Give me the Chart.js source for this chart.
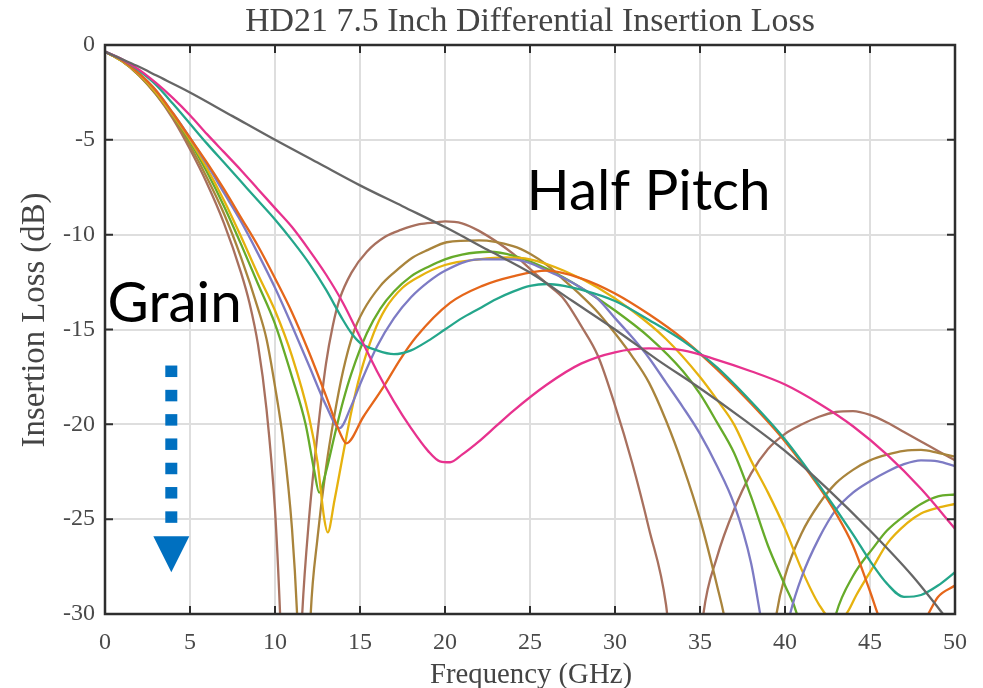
<!DOCTYPE html>
<html>
<head>
<meta charset="utf-8">
<title>HD21 7.5 Inch Differential Insertion Loss</title>
<script src="https://cdn.jsdelivr.net/npm/chart.js@4.4.1/dist/chart.umd.min.js"></script>
<style>
  html, body { margin: 0; padding: 0; background: #fff; }
  #wrap { width: 983px; height: 688px; }
</style>
</head>
<body>
<div id="wrap"><canvas id="il" width="983" height="688"></canvas></div>
<script>
// axis ticks
const freqTicks = [0, 5, 10, 15, 20, 25, 30, 35, 40, 45, 50];
const lossTicks = [0, -5, -10, -15, -20, -25, -30];

// insertion loss traces, frequency in GHz / loss in dB
const freqGray = [0, 1, 2, 3, 5, 7.5, 10, 12.5, 15, 17.5, 20, 22.5, 25, 27.5, 30, 32.5, 35, 37.5, 40, 42.5, 45, 47.5, 50];
const lossGray = [-0.35, -0.75, -1.15, -1.6, -2.5, -3.75, -5.0, -6.2, -7.4, -8.5, -9.6, -10.8, -12.0, -13.5, -15.0, -16.6, -18.1, -19.7, -21.4, -23.4, -25.6, -28.0, -30.8];

const freqPink = [0, 1, 2, 3, 4, 5, 6, 7, 8, 9, 10, 11, 12, 13, 14, 15, 16, 17, 18, 19, 19.7, 20.3, 21, 22, 23, 24, 26, 28, 30, 32, 34, 36, 38, 40, 42, 44, 46, 48, 50];
const lossPink = [-0.35, -0.75, -1.3, -2.0, -2.8, -3.7, -4.7, -5.65, -6.6, -7.6, -8.6, -9.6, -10.8, -12.1, -13.6, -15.4, -17.2, -18.8, -20.2, -21.4, -21.95, -22.0, -21.6, -20.9, -20.1, -19.3, -17.9, -16.8, -16.2, -16.0, -16.1, -16.6, -17.2, -17.9, -18.9, -20.1, -21.6, -23.4, -25.5];

const freqTeal = [0, 1, 2, 3, 4, 5, 6, 7, 8, 9, 10, 11, 12, 13, 14, 14.5, 15, 16, 17, 18, 19, 20, 21, 22, 23, 24, 25, 26, 27, 28, 30, 32, 34, 36, 38, 40, 42, 44, 45, 46, 47, 48, 49, 50];
const lossTeal = [-0.35, -0.75, -1.35, -2.1, -3.1, -4.15, -5.2, -6.2, -7.2, -8.2, -9.2, -10.3, -11.5, -12.9, -14.5, -15.2, -15.7, -16.1, -16.3, -16.1, -15.6, -15.0, -14.4, -13.9, -13.4, -13.0, -12.7, -12.6, -12.7, -12.9, -13.5, -14.5, -15.6, -17.0, -18.8, -20.8, -23.2, -25.8, -27.2, -28.4, -29.1, -29.0, -28.5, -27.8];

const freqOrange = [0, 1, 2, 3, 4, 5, 6, 7, 8, 9, 10, 11, 12, 13, 13.8, 14.2, 15.2, 16.4, 17.35, 18.3, 20.3, 22.2, 24, 26, 28, 30, 32, 34, 36, 38, 40, 42, 43, 44, 45, 45.6, 46.5, 47.5, 48.3, 49, 50];
const lossOrange = [-0.35, -0.8, -1.5, -2.4, -3.6, -4.9, -6.2, -7.6, -9.1, -10.6, -12.3, -14.1, -16.2, -18.5, -20.4, -21.0, -19.6, -18.0, -16.6, -15.4, -13.6, -12.7, -12.2, -11.9, -12.3, -13.1, -14.2, -15.5, -17.1, -18.9, -20.9, -23.3, -24.7, -26.4, -28.8, -30.3, -31.2, -31.2, -30.2, -29.1, -28.5];

const freqPurple = [0, 1, 2, 3, 4, 5, 6, 7, 8, 9, 10, 11, 12, 13, 13.8, 14.5, 15, 16, 17, 18, 19, 20, 22, 24, 25, 26, 27, 28, 29, 30, 31, 32, 33, 34, 35, 36, 37, 38, 38.6, 39.4, 40.3, 41, 42, 43, 44, 45, 46, 47, 48, 49, 50];
const lossPurple = [-0.35, -0.8, -1.5, -2.4, -3.6, -4.9, -6.3, -7.8, -9.3, -11.0, -12.8, -14.8, -16.9, -19.0, -20.2, -19.0, -17.9, -15.9, -14.4, -13.3, -12.5, -11.9, -11.3, -11.3, -11.5, -11.9, -12.3, -12.8, -13.4, -14.4, -15.4, -16.5, -17.8, -19.1, -20.5, -22.2, -24.2, -27.3, -30.3, -34.0, -30.0, -28.0, -26.0, -24.5, -23.6, -23.0, -22.5, -22.1, -21.9, -21.95, -22.2];

const freqGreen = [0, 1, 2, 3, 4, 5, 6, 7, 8, 9, 10, 11, 11.8, 12.3, 12.6, 13, 13.5, 14, 14.5, 15.4, 16.2, 17, 18, 19, 20, 21, 22.6, 24, 26, 28, 30, 32, 34, 35, 36, 37, 38, 39, 40, 40.7, 41.8, 43, 44, 45.2, 46, 47.2, 48, 49, 50];
const lossGreen = [-0.35, -0.85, -1.55, -2.5, -3.7, -5.1, -6.7, -8.5, -10.5, -12.6, -14.7, -17.5, -20.0, -22.4, -23.6, -22.5, -20.6, -18.8, -17.3, -15.2, -13.9, -13.0, -12.2, -11.7, -11.3, -11.05, -10.9, -11.1, -11.8, -12.8, -14.0, -15.4, -17.2, -18.4, -19.9, -21.5, -23.8, -26.4, -28.5, -30.0, -35.0, -30.0, -28.0, -26.5, -25.6, -24.7, -24.2, -23.8, -23.7];

const freqYellow = [0, 1, 2, 3, 4, 5, 6, 7, 8, 9, 10, 11, 12, 12.5, 12.9, 13.1, 13.5, 14, 14.5, 15, 15.8, 16.5, 17.5, 18.5, 20, 22, 23.6, 25, 27, 29, 31, 33, 35, 36, 37, 38, 39, 40, 41, 42, 42.8, 43.6, 44.2, 45.2, 46, 47.2, 48, 49, 50];
const lossYellow = [-0.35, -0.85, -1.55, -2.5, -3.7, -5.0, -6.5, -8.2, -10.1, -12.1, -14.0, -16.4, -19.6, -22.0, -25.0, -25.7, -24.0, -21.6, -19.3, -17.4, -15.2, -13.9, -12.8, -12.2, -11.6, -11.3, -11.2, -11.3, -11.9, -12.8, -14.0, -15.5, -17.5, -18.7, -20.0, -21.9, -23.6, -25.5, -27.7, -29.5, -30.3, -30.0, -29.0, -27.5, -26.3, -25.2, -24.7, -24.4, -24.2];

const freqOlive = [0, 1, 2, 3, 4, 5, 6, 7, 8, 9, 9.5, 10, 10.5, 11, 11.3, 11.7, 12.1, 12.5, 13, 13.5, 14, 14.6, 15.2, 16.2, 17, 18.1, 19, 20.1, 22, 24, 25, 26, 27, 28, 29, 30, 31, 32, 33, 34, 35, 36, 36.5, 37.3, 38.2, 39.5, 40, 41, 42, 43, 44, 45, 46, 47, 48, 49, 50];
const lossOlive = [-0.35, -0.85, -1.6, -2.6, -3.8, -5.3, -7.0, -8.9, -11.2, -13.9, -15.5, -18.0, -21.0, -25.5, -30.0, -40.0, -30.0, -26.0, -22.3, -19.5, -17.2, -15.2, -14.0, -12.7, -12.0, -11.2, -10.8, -10.4, -10.3, -10.6, -11.0, -11.6, -12.4, -13.2, -14.1, -15.2, -16.4, -17.8, -19.8, -22.2, -25.0, -28.5, -30.5, -36.0, -40.0, -30.0, -28.0, -25.7, -24.2, -23.1, -22.4, -21.9, -21.6, -21.4, -21.35, -21.5, -21.7];

const freqMauve = [0, 1, 2, 3, 4, 5, 6, 7, 8, 8.5, 9, 9.5, 10, 10.3, 10.9, 11.6, 12, 12.5, 13, 13.4, 13.8, 14.5, 15.4, 16.5, 17.4, 18.5, 19.5, 20, 21, 22, 24, 25, 26, 27, 28, 29, 30, 31, 32, 33, 34.2, 35.2, 36, 37, 38, 39, 40, 41, 42, 43, 44, 45, 46, 47, 48, 49, 50];
const lossMauve = [-0.35, -0.85, -1.6, -2.6, -3.9, -5.5, -7.3, -9.4, -12.0, -13.6, -15.8, -19.2, -24.5, -30.0, -45.0, -30.0, -25.0, -20.5, -16.8, -14.8, -13.4, -12.0, -10.9, -10.1, -9.75, -9.45, -9.35, -9.3, -9.4, -9.8, -11.0, -11.8, -12.6, -13.4, -14.8, -16.4, -19.0, -22.0, -25.5, -29.5, -40.0, -30.0, -27.0, -24.5, -22.6, -21.3, -20.5, -20.0, -19.6, -19.35, -19.3, -19.5, -19.9, -20.4, -20.9, -21.4, -21.9];

// first entry is drawn on top
const traces = [
  { label: 'gray',   f: freqGray,   db: lossGray,   color: '#666666' },
  { label: 'pink',   f: freqPink,   db: lossPink,   color: '#e7328e' },
  { label: 'teal',   f: freqTeal,   db: lossTeal,   color: '#24a68b' },
  { label: 'orange', f: freqOrange, db: lossOrange, color: '#e5661a' },
  { label: 'purple', f: freqPurple, db: lossPurple, color: '#7d7bc4' },
  { label: 'yellow', f: freqYellow, db: lossYellow, color: '#e6b20e' },
  { label: 'green',  f: freqGreen,  db: lossGreen,  color: '#66ab2a' },
  { label: 'olive',  f: freqOlive,  db: lossOlive,  color: '#a9843c' },
  { label: 'mauve',  f: freqMauve,  db: lossMauve,  color: '#a8705e' }
];

const serif = '"Liberation Serif", "Times New Roman", serif';

// font size that makes a string span the given width
function fitSize(ctx, text, family, width) {
  ctx.font = '100px ' + family;
  return 100 * width / ctx.measureText(text).width;
}

const frameAndNotes = {
  id: 'frameAndNotes',
  afterDraw(chart) {
    const { ctx, chartArea: a, scales: { x, y } } = chart;
    ctx.save();

    // axes box with inward ticks
    ctx.strokeStyle = '#2e2e2e';
    ctx.lineWidth = 2.5;
    ctx.strokeRect(a.left, a.top, a.right - a.left, a.bottom - a.top);
    ctx.lineWidth = 2;
    ctx.beginPath();
    freqTicks.forEach(v => {
      const px = x.getPixelForValue(v);
      ctx.moveTo(px, a.top); ctx.lineTo(px, a.top + 8);
      ctx.moveTo(px, a.bottom); ctx.lineTo(px, a.bottom - 8);
    });
    lossTicks.forEach(v => {
      const py = y.getPixelForValue(v);
      ctx.moveTo(a.left, py); ctx.lineTo(a.left + 8, py);
      ctx.moveTo(a.right, py); ctx.lineTo(a.right - 8, py);
    });
    ctx.stroke();

    // title and axis names
    ctx.fillStyle = '#444';
    ctx.textAlign = 'center';
    ctx.textBaseline = 'middle';
    const title = 'HD21 7.5 Inch Differential Insertion Loss';
    ctx.font = fitSize(ctx, title, serif, 570) + 'px ' + serif;
    ctx.fillText(title, 530, 22);

    const xName = 'Frequency (GHz)';
    ctx.font = fitSize(ctx, xName, serif, 202) + 'px ' + serif;
    ctx.fillText(xName, 531, 675);

    const yName = 'Insertion Loss (dB)';
    ctx.font = fitSize(ctx, yName, serif, 255) + 'px ' + serif;
    ctx.save();
    ctx.translate(35, 320);
    ctx.rotate(-Math.PI / 2);
    ctx.fillText(yName, 0, 0);
    ctx.restore();

    // callouts
    ctx.fillStyle = '#000';
    ctx.textAlign = 'left';
    ctx.textBaseline = 'alphabetic';
    const big = fitSize(ctx, 'Half Pitch', 'Lato', 244);
    ctx.font = big + 'px Lato';
    ctx.fillText('Half Pitch', x.getPixelForValue(24.8), y.getPixelForValue(-8.7));
    ctx.fillText('Grain', x.getPixelForValue(0.15), y.getPixelForValue(-14.6));

    // dotted arrow pointing down
    ctx.fillStyle = '#0070c0';
    const ax = x.getPixelForValue(3.9);
    const top = y.getPixelForValue(-16.9);
    const headBase = y.getPixelForValue(-25.9);
    const tip = y.getPixelForValue(-27.8);
    for (let i = 0; i < 7; i++) {
      ctx.fillRect(ax - 6, top + i * 24.3, 12, 11.5);
    }
    ctx.beginPath();
    ctx.moveTo(ax - 18, headBase);
    ctx.lineTo(ax + 18, headBase);
    ctx.lineTo(ax, tip);
    ctx.closePath();
    ctx.fill();

    ctx.restore();
  }
};

const tickFont = { family: serif, size: 24 };

new Chart(document.getElementById('il'), {
  type: 'line',
  data: {
    datasets: traces.map(t => ({
      label: t.label,
      data: t.f.map((f, i) => ({ x: f, y: t.db[i] })),
      borderColor: t.color,
      borderWidth: 2.3,
      pointRadius: 0,
      fill: false,
      cubicInterpolationMode: 'monotone'
    }))
  },
  options: {
    responsive: false,
    devicePixelRatio: 1,
    animation: false,
    layout: { padding: { left: 0, top: 45, right: 28, bottom: 0 } },
    plugins: {
      legend: { display: false },
      tooltip: { enabled: false }
    },
    scales: {
      x: {
        type: 'linear',
        min: 0,
        max: 50,
        ticks: { stepSize: 5, autoSkip: false, maxRotation: 0, padding: 14, color: '#4a4a4a', font: tickFont },
        grid: { color: '#dedede', lineWidth: 2, drawTicks: false },
        border: { display: false },
        afterFit: s => { s.height = 74; }
      },
      y: {
        type: 'linear',
        min: -30,
        max: 0,
        ticks: { stepSize: 5, padding: 10, color: '#4a4a4a', font: tickFont },
        grid: { color: '#dedede', lineWidth: 2, drawTicks: false },
        border: { display: false },
        afterFit: s => { s.width = 105; }
      }
    }
  },
  plugins: [frameAndNotes]
});
</script>
</body>
</html>
